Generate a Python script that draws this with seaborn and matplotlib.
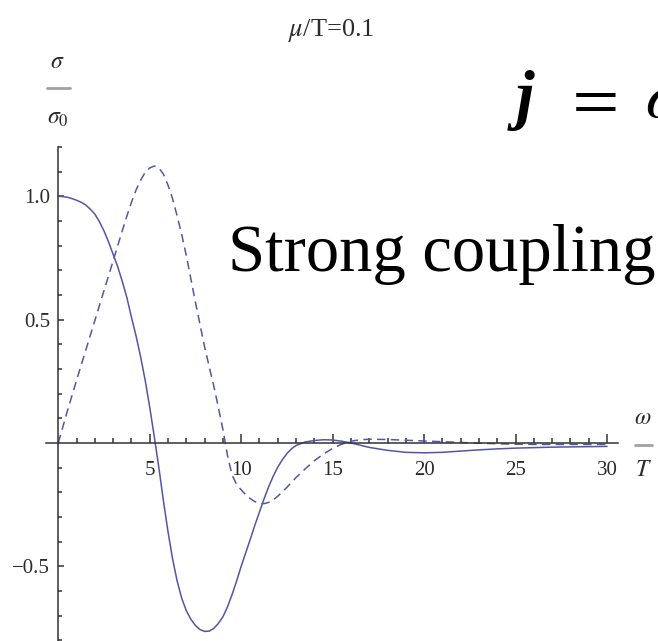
import numpy as np
import matplotlib
matplotlib.use("Agg")
import matplotlib.pyplot as plt
from matplotlib.lines import Line2D
from matplotlib.ticker import FixedLocator
import seaborn as sns

# Real part of the normalised conductivity, sigma/sigma0 vs omega/T
omega_re = [0.0, 0.25, 0.5, 0.75, 1.0, 1.25, 1.5, 1.75, 2.0, 2.25, 2.5, 2.75, 3.0,
            3.25, 3.5, 3.75, 4.0, 4.25, 4.5, 4.75, 5.0, 5.25, 5.5, 5.75, 6.0, 6.25,
            6.5, 6.75, 7.0, 7.25, 7.5, 7.75, 8.0, 8.25, 8.5, 8.75, 9.0, 9.25, 9.5,
            9.75, 10.0, 10.25, 10.5, 10.75, 11.0, 11.25, 11.5, 11.75, 12.0, 12.25,
            12.5, 12.75, 13.0, 13.5, 14.0, 14.5, 15.0, 15.5, 16.0, 16.5, 17.0,
            18.0, 19.0, 20.0, 21.0, 22.0, 23.0, 24.0, 25.0, 26.0, 27.0, 28.0,
            29.0, 30.0]
sigma_re = [1.0, 0.999, 0.996, 0.991, 0.984, 0.976, 0.965, 0.948, 0.928, 0.897,
            0.86, 0.815, 0.765, 0.715, 0.655, 0.59, 0.51, 0.435, 0.35, 0.255,
            0.145, 0.025, -0.1, -0.235, -0.36, -0.47, -0.56, -0.63, -0.68,
            -0.715, -0.74, -0.757, -0.764, -0.763, -0.752, -0.732, -0.705, -0.665,
            -0.615, -0.56, -0.5, -0.445, -0.39, -0.333, -0.28, -0.227, -0.178,
            -0.135, -0.098, -0.068, -0.043, -0.024, -0.01, 0.004, 0.01, 0.013,
            0.012, 0.007, 0.0, -0.009, -0.018, -0.03, -0.038, -0.04, -0.038,
            -0.033, -0.028, -0.024, -0.021, -0.019, -0.017, -0.016, -0.015, -0.014]

# Imaginary part (dashed)
omega_im = [0.0, 0.25, 0.5, 0.75, 1.0, 1.25, 1.5, 1.75, 2.0, 2.25, 2.5, 2.75, 3.0,
            3.25, 3.5, 3.75, 4.0, 4.25, 4.5, 4.75, 5.0, 5.25, 5.5, 5.75, 6.0, 6.25,
            6.5, 6.75, 7.0, 7.25, 7.5, 7.75, 8.0, 8.25, 8.5, 8.75, 9.0, 9.25, 9.5,
            9.75, 10.0, 10.25, 10.5, 10.75, 11.0, 11.25, 11.5, 11.75, 12.0, 12.5,
            13.0, 13.5, 14.0, 14.5, 15.0, 15.5, 16.0, 16.5, 17.0, 18.0, 19.0, 20.0,
            21.0, 22.0, 23.0, 24.0, 25.0, 26.0, 27.0, 28.0, 29.0, 30.0]
sigma_im = [0.0, 0.065, 0.13, 0.192, 0.254, 0.315, 0.375, 0.436, 0.496, 0.557,
            0.618, 0.678, 0.738, 0.8, 0.86, 0.92, 0.975, 1.025, 1.065, 1.097,
            1.115, 1.123, 1.115, 1.09, 1.045, 0.99, 0.92, 0.845, 0.76, 0.665, 0.57,
            0.48, 0.39, 0.31, 0.232, 0.145, 0.055, -0.05, -0.13, -0.168, -0.19,
            -0.21, -0.226, -0.238, -0.245, -0.246, -0.241, -0.231, -0.216, -0.18,
            -0.14, -0.105, -0.072, -0.045, -0.022, -0.005, 0.007, 0.013, 0.015,
            0.014, 0.011, 0.008, 0.005, 0.002, -0.001, -0.003, -0.005, -0.006,
            -0.006, -0.006, -0.006, -0.006]

x_major = [5, 10, 15, 20, 25, 30]
x_major_labels = ["5", "10", "15", "20", "25", "30"]
y_major = [-0.5, 0.5, 1.0]
y_major_labels = ["\u22120.5", "0.5", "1.0"]

sns.set_style("white")
plt.rcParams["font.family"] = ["Liberation Serif", "DejaVu Serif"]
plt.rcParams["mathtext.fontset"] = "stix"

W, H = 658, 641
fig = plt.figure(figsize=(W / 100, H / 100), dpi=100)
fig.patch.set_facecolor("white")


def fx(px):
    return px / W


def fy(py):
    return 1 - py / H


ax = fig.add_axes([fx(46), 0, (618 - 46) / W, (641 - 147) / H])
ax.set_facecolor("none")

line_color = "#5257a3"
sns.lineplot(x=omega_re, y=sigma_re, ax=ax, color=line_color, linewidth=1.1,
             sort=False)
sns.lineplot(x=omega_im, y=sigma_im, ax=ax, color=line_color, linewidth=1.1,
             sort=False)
ax.lines[-1].set_dashes([5.5, 3.5])

ax.set_xlim(-0.67, 30.6)
ax.set_ylim(-0.803, 1.2)

axis_color = "#333333"
for side in ["top", "right"]:
    ax.spines[side].set_visible(False)
ax.spines["left"].set_position(("data", 0))
ax.spines["bottom"].set_position(("data", 0))
for side in ["left", "bottom"]:
    ax.spines[side].set_color(axis_color)
    ax.spines[side].set_linewidth(1.1)

ax.xaxis.set_major_locator(FixedLocator(x_major))
ax.xaxis.set_minor_locator(FixedLocator([v for v in range(1, 31) if v % 5]))
ax.set_xticklabels(x_major_labels)

y_minor = [v for v in np.round(np.arange(-0.8, 1.21, 0.1), 1)
           if v not in (0.0, -0.5, 0.5, 1.0)]
ax.yaxis.set_major_locator(FixedLocator(y_major))
ax.yaxis.set_minor_locator(FixedLocator(y_minor))
ax.set_yticklabels(y_major_labels)

label_color = "#2b2b2b"
ax.tick_params(axis="x", which="both", direction="in", bottom=True, top=False,
               color=axis_color, width=1.1, labelsize=15, labelcolor=label_color,
               pad=13)
ax.tick_params(axis="x", which="major", length=6.5)
ax.tick_params(axis="x", which="minor", length=3.6)
ax.tick_params(axis="y", which="both", direction="in", left=True, right=False,
               color=axis_color, width=1.1, labelsize=15, labelcolor=label_color,
               pad=6)
ax.tick_params(axis="y", which="major", length=4.5)
ax.tick_params(axis="y", which="minor", length=3)
ax.set_xlabel("")
ax.set_ylabel("")
ax.grid(False)

# Panel title
fig.text(fx(331), fy(31), r"$\mu$/T=0.1", ha="center", va="center",
         fontsize=19, color=label_color)

# Vertical axis label as a stacked fraction
fig.text(fx(57), fy(62), r"$\sigma$", ha="center", va="center", fontsize=17,
         color=label_color)
fig.add_artist(Line2D([fx(47), fx(70)], [fy(88), fy(88)], color="#a0a0a0",
                      linewidth=2.0, transform=fig.transFigure))
fig.text(fx(58), fy(118), r"$\sigma_0$", ha="center", va="center", fontsize=17,
         color=label_color)

# Horizontal axis label as a stacked fraction
fig.text(fx(643), fy(419), r"$\omega$", ha="center", va="center", fontsize=17,
         color=label_color)
fig.add_artist(Line2D([fx(635), fx(652)], [fy(445), fy(445)], color="#a0a0a0",
                      linewidth=2.0, transform=fig.transFigure))
fig.text(fx(643), fy(470), r"$T$", ha="center", va="center", fontsize=17,
         color=label_color)

# Slide annotations over the plot
fig.text(fx(228), fy(271), "Strong coupling", ha="left", va="baseline",
         fontsize=48, color="black", family="Liberation Serif")
fig.text(fx(516), fy(117), "j", ha="left", va="baseline", fontsize=48,
         fontweight="bold", fontstyle="italic", color="black",
         family="Liberation Serif")
fig.text(fx(563), fy(117), r"$=$", ha="left", va="baseline", fontsize=48,
         color="black")
fig.text(fx(645), fy(117), r"$\sigma$", ha="left", va="baseline", fontsize=48,
         color="black")

fig.savefig("out.png", dpi=100, facecolor="white")
